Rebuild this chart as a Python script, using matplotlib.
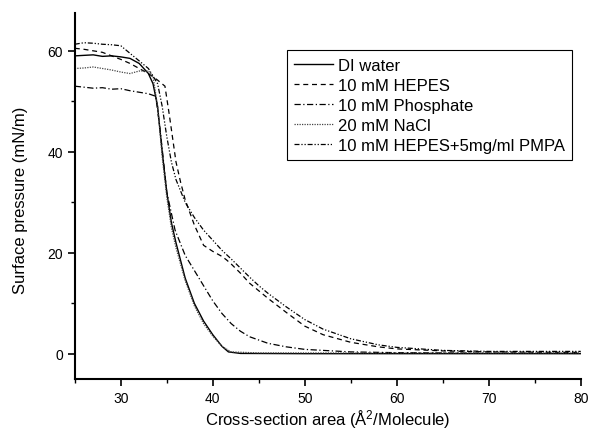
import matplotlib
matplotlib.use("Agg")
import matplotlib.pyplot as plt
from matplotlib.ticker import MultipleLocator

plt.rcParams['font.family'] = ['Liberation Sans', 'DejaVu Sans']
plt.rcParams['mathtext.default'] = 'regular'

# Isothermes (aire par molecule, pression de surface)
x_di = [25, 26, 27, 28, 29, 30, 31, 32, 33, 33.5, 34, 34.5, 35, 35.5, 36, 37, 38, 39, 40, 41, 41.7, 43, 50, 60, 70, 80]
y_di = [59, 59.1, 59.2, 58.9, 59, 58.8, 58.5, 57.5, 55.5, 53.5, 49, 40, 32, 26, 22, 15, 10, 6.5, 3.8, 1.5, 0.4, 0.1, 0.05, 0.05, 0.05, 0.05]

x_hepes = [25, 26, 27, 28, 29, 30, 31, 32, 33, 34, 34.8, 35.3, 36, 36.5, 37, 38, 39, 40, 41, 41.5, 42, 43, 44, 45, 46, 48, 50, 52, 55, 58, 60, 65, 70, 80]
y_hepes = [60.5, 60.3, 60, 59.7, 59, 58.3, 57.5, 56.5, 55.5, 54.2, 53, 47, 38, 34, 30.5, 25.5, 21.5, 20.3, 19.3, 18.6, 17.8, 16, 14, 12.5, 11, 8.2, 5.5, 3.8, 2.3, 1.4, 1.0, 0.6, 0.4, 0.3]

x_phos = [25, 26, 27, 28, 29, 30, 31, 32, 33, 33.8, 34.3, 35, 35.9, 37, 38, 39, 40, 41, 42, 43, 44, 46, 48, 50, 55, 60, 70, 80]
y_phos = [53, 52.8, 52.6, 52.7, 52.4, 52.5, 52.1, 51.8, 51.5, 51, 44, 32, 24.5, 19.5, 16.5, 13.5, 10.5, 8, 6, 4.5, 3.4, 2.1, 1.4, 0.9, 0.4, 0.25, 0.15, 0.1]

x_nacl = [25, 26, 27, 28, 29, 30, 31, 32, 33, 33.5, 34, 34.5, 35, 35.5, 36, 37, 38, 39, 40, 41, 42, 45, 60, 80]
y_nacl = [56.5, 56.6, 56.8, 56.5, 56.2, 55.8, 55.5, 56, 56, 55, 49, 39, 31, 25, 21, 14.5, 9.5, 6, 3.5, 1.5, 0.4, 0.2, 0.2, 0.2]

x_pmpa = [25, 26, 27, 28, 29, 30, 31, 32, 33, 34, 34.5, 35, 35.5, 36, 37, 38, 39, 40, 41, 42, 43, 44, 45, 46, 48, 50, 52, 55, 58, 60, 65, 70, 80]
y_pmpa = [61.3, 61.6, 61.5, 61.3, 61.2, 61, 59.5, 58, 56.5, 53.5, 49, 43, 38, 34.5, 30, 27, 24.5, 22.5, 20.5, 18.8, 17, 15.2, 13.5, 12, 9.3, 6.8, 4.9, 3, 1.8, 1.3, 0.7, 0.5, 0.5]

fig = plt.figure(figsize=(5.89, 4.35), dpi=100)
ax = fig.add_axes([0.127, 0.126, 0.859, 0.842])

ax.plot(x_di, y_di, color='black', lw=1.0, linestyle='-', label='DI water')
ax.plot(x_hepes, y_hepes, color='black', lw=0.9, linestyle=(0, (4, 3)), label='10 mM HEPES')
ax.plot(x_phos, y_phos, color='black', lw=0.9, linestyle=(0, (5, 2, 1, 2)), label='10 mM Phosphate')
ax.plot(x_nacl, y_nacl, color='#444444', lw=0.9, linestyle=(0, (1, 1)), label='20 mM NaCl')
ax.plot(x_pmpa, y_pmpa, color='black', lw=0.9, linestyle=(0, (4, 1.5, 1, 1.5, 1, 1.5)), label='10 mM HEPES+5mg/ml PMPA')

ax.set_xlim(25, 80)
ax.set_ylim(-5, 67.5)
ax.xaxis.set_major_locator(MultipleLocator(10))
ax.xaxis.set_minor_locator(MultipleLocator(5))
ax.yaxis.set_major_locator(MultipleLocator(20))
ax.yaxis.set_minor_locator(MultipleLocator(10))

ax.spines['top'].set_visible(False)
ax.spines['right'].set_visible(False)
ax.spines['left'].set_linewidth(1.5)
ax.spines['bottom'].set_linewidth(1.5)
ax.tick_params(which='major', direction='out', length=5, width=1.2, labelsize=10)
ax.tick_params(which='minor', direction='out', length=3, width=1.0)

ax.set_xlabel('Cross-section area (Å$^2$/Molecule)', fontsize=12)
ax.set_ylabel('Surface pressure (mN/m)', fontsize=12)
ax.xaxis.set_label_coords(0.499, -0.076)
ax.yaxis.set_label_coords(-0.092, 0.49)

leg = ax.legend(loc='upper left', bbox_to_anchor=(0.419, 0.898), fontsize=12,
                frameon=True, fancybox=False, framealpha=1, edgecolor='black',
                handlelength=2.3, handletextpad=0.3, labelspacing=0.3, borderpad=0.45,
                borderaxespad=0)
leg.get_frame().set_linewidth(0.8)

fig.savefig('out.png', dpi=100)
